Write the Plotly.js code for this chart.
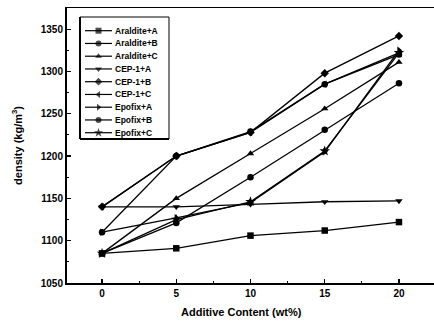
<!DOCTYPE html>
<html><head><meta charset="utf-8">
<script src="https://cdn.plot.ly/plotly-3.0.1.min.js"></script>
<style>html,body{margin:0;padding:0;background:#fff}#c{width:434px;height:322px}</style>
</head><body><div id="c"></div><script>
var additive = [0, 5, 10, 15, 20];
var names = ['Araldite+A','Araldite+B','Araldite+C','CEP-1+A','CEP-1+B','CEP-1+C','Epofix+A','Epofix+B','Epofix+C'];
var symbols = ['square','circle','triangle-up','triangle-down','diamond','triangle-left','triangle-right','circle','star'];
var aralditeA = [1085, 1091, 1106, 1112, 1122];
var aralditeB = [1085, 1121, 1175, 1231, 1286];
var aralditeC = [1085, 1150, 1203, 1256, 1311];
var cepA = [1140, 1140, 1143, 1146, 1147];
var cepB = [1140, 1200, 1228, 1298, 1342];
var cepC = [1140, 1200, 1228, 1285, 1322];
var epofixA = [1110, 1127, 1145, 1205, 1325];
var epofixB = [1110, 1200, 1229, 1285, 1320];
var epofixC = [1085, 1125, 1146, 1206, 1322];
var series = [aralditeA, aralditeB, aralditeC, cepA, cepB, cepC, epofixA, epofixB, epofixC];
var xTicks = [0, 5, 10, 15, 20];
var yTicks = [1050, 1100, 1150, 1200, 1250, 1300, 1350];

var F = 'Arial, "Liberation Sans", sans-serif';
var traces = [];
series.forEach(function(v, i){
  traces.push({x: additive, y: v, type:'scatter', mode:'lines+markers', name: names[i],
    line:{color:'#000', width:1.3},
    marker:{symbol: symbols[i], size: symbols[i]==='star'?8:6.5, color:'#000'},
    showlegend:false, hoverinfo:'skip'});
});
// custom legend on an overlay pixel-like axis pair
var annotations = [];
var rowTop = 30.7, rowStep = 12.75;
names.forEach(function(n, i){
  var yy = rowTop + i*rowStep;
  traces.push({x:[85, 98.5, 112], y:[yy, yy, yy], xaxis:'x2', yaxis:'y2', type:'scatter', mode:'lines+markers',
    line:{color:'#000', width:1.2},
    marker:{symbol: symbols[i], size:[0, symbols[i]==='star'?7:6, 0], color:'#000', line:{width:0}},
    showlegend:false, hoverinfo:'skip'});
  annotations.push({xref:'x2', yref:'y2', x:113, y:yy, text:n, showarrow:false, xanchor:'left', yanchor:'middle',
    font:{family:F, size:8.5, color:'#000', weight:'bold'}});
});
annotations.push({xref:'paper', yref:'paper', x:(241-67)/367, y:-0.075, yanchor:'top', xanchor:'center',
  text:'Additive Content (wt%)', showarrow:false, font:{family:F, size:11, color:'#000', weight:'bold'}});

var layout = {
  width:434, height:322,
  margin:{l:67, r:0, t:8, b:39},
  paper_bgcolor:'#fff', plot_bgcolor:'#fff',
  showlegend:false,
  xaxis:{range:[-2.36, 22.36], tickvals:xTicks, ticktext:xTicks.map(String), ticks:'inside', ticklen:4, tickwidth:1.2,
    tickcolor:'#000', showgrid:false, zeroline:false, showline:true, linecolor:'#000', linewidth:1.5, mirror:true,
    minor:{ticks:'inside', ticklen:2, tickvals:[2.5,7.5,12.5,17.5], tickcolor:'#000', tickwidth:1},
    tickfont:{family:F, size:10, color:'#000', weight:'bold'}},
  yaxis:{range:[1050, 1375], tickvals:yTicks, ticktext:yTicks.map(String), ticks:'inside', ticklen:4, tickwidth:1.2,
    tickcolor:'#000', showgrid:false, zeroline:false, showline:true, linecolor:'#000', linewidth:2,
    minor:{ticks:'inside', ticklen:2, tickvals:[1075,1125,1175,1225,1275,1325], tickcolor:'#000', tickwidth:1},
    tickfont:{family:F, size:10, color:'#000', weight:'bold'},
    title:{text:'density (kg/m<sup>3</sup>)', standoff:16, font:{family:F, size:11, color:'#000', weight:'bold'}}},
  xaxis2:{overlaying:'x', range:[67, 434], visible:false, fixedrange:true},
  yaxis2:{overlaying:'y', range:[283, 8], visible:false, fixedrange:true},
  shapes:[
    {type:'rect', xref:'paper', yref:'paper', x0:(80-67)/367, x1:(169-67)/367, y0:(283-139)/275, y1:(283-17)/275,
      line:{color:'#000', width:1}, fillcolor:'#fff', layer:'below'},
    {type:'line', xref:'paper', yref:'paper', x0:(80-67)/367, x1:(80-67)/367, y0:(283-139)/275, y1:(283-17)/275,
      line:{color:'#000', width:2}, layer:'below'},
    {type:'line', xref:'paper', yref:'paper', x0:(80-67)/367, x1:(169-67)/367, y0:(283-139)/275, y1:(283-139)/275,
      line:{color:'#000', width:2}, layer:'below'}
  ],
  annotations: annotations
};
Plotly.newPlot('c', traces, layout, {staticPlot:true, displayModeBar:false});
</script></body></html>
